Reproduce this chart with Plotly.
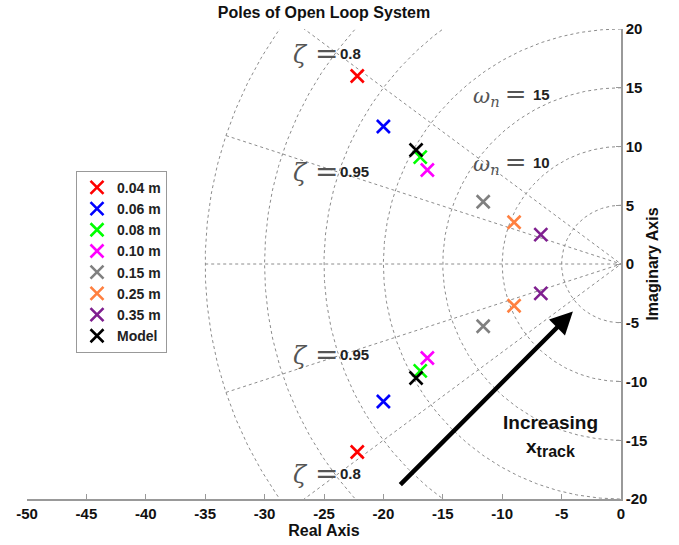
import numpy as np
import plotly.graph_objects as go

# ---- data ----
labels = ["0.04 m", "0.06 m", "0.08 m", "0.10 m", "0.15 m", "0.25 m", "0.35 m", "Model"]
colors = ["#FF0000", "#0000FF", "#00FF00", "#FF00FF", "#808080", "#FF8040", "#7F1F8F", "#000000"]
pole_real = [-22.2, -20.0, -16.9, -16.3, -11.6, -9.0, -6.75, -17.25]
pole_imag = [16.0, 11.7, 9.1, 8.0, 5.3, 3.55, 2.5, 9.7]

wn_grid = [5, 10, 15, 20, 25, 30, 35]
zeta_grid = [0.8, 0.95]
x_ticks = list(range(-50, 1, 5))
y_ticks = list(range(-20, 21, 5))

BOLD = "Liberation Sans"
SERIF = "DejaVu Serif"
grid_style = dict(color="#8c8c8c", width=1, dash="dot")

fig = go.Figure()

# omega_n semicircles
th = np.linspace(np.pi / 2, 3 * np.pi / 2, 400)
for r in wn_grid:
    fig.add_trace(go.Scatter(x=r * np.cos(th), y=r * np.sin(th), mode="lines",
                             line=grid_style, showlegend=False, hoverinfo="skip"))
# zeta rays
rmax = max(wn_grid)
fig.add_trace(go.Scatter(x=[-rmax, 0], y=[0, 0], mode="lines", line=grid_style,
                         showlegend=False, hoverinfo="skip"))
for z in zeta_grid:
    s = np.sqrt(1 - z * z)
    for sign in (1, -1):
        fig.add_trace(go.Scatter(x=[-rmax * z, 0], y=[sign * rmax * s, 0], mode="lines",
                                 line=grid_style, showlegend=False, hoverinfo="skip"))

# poles
for lab, c, re, im in zip(labels, colors, pole_real, pole_imag):
    fig.add_trace(go.Scatter(x=[re, re], y=[im, -im], mode="markers", name=lab,
                             marker=dict(symbol="x-thin", size=13, color=c,
                                         line=dict(color=c, width=2.6))))

ann = []
serif_font = dict(family=SERIF, size=24, color="#555")
num_font = dict(family=BOLD, size=15, color="#222")
for txt, yy in [("0.8", 17.9), ("0.95", 7.9), ("0.95", -7.7), ("0.8", -17.8)]:
    ann.append(dict(x=-27.75, y=yy, xref="x", yref="y",
                    text="<i>ζ</i><span style='font-size:28px'> =</span>", showarrow=False,
                    xanchor="left", yanchor="middle", font=serif_font))
    ann.append(dict(x=-23.85, y=yy, xref="x", yref="y", text=f"<b>{txt}</b>", showarrow=False,
                    xanchor="left", yanchor="middle", font=num_font))
for txt, yy in [("15", 14.45), ("10", 8.6)]:
    ann.append(dict(x=-12.6, y=yy, xref="x", yref="y",
                    text="<i>ω<sub>n</sub></i><span style='font-size:26px'>\u2009=</span>",
                    showarrow=False, xanchor="left", yanchor="middle",
                    font=dict(family=SERIF, size=21, color="#555")))
    ann.append(dict(x=-7.6, y=yy, xref="x", yref="y", text=f"<b>{txt}</b>", showarrow=False,
                    xanchor="left", yanchor="middle", font=num_font))

# arrow
ann.append(dict(x=-4.05, y=-4.05, ax=-18.7, ay=-18.9, xref="x", yref="y", axref="x", ayref="y",
                text="", showarrow=True, arrowhead=2, arrowsize=1.0, arrowwidth=4.5,
                arrowcolor="#000"))
ann.append(dict(x=-5.95, y=-13.45, xref="x", yref="y", text="<b>Increasing</b>", showarrow=False,
                font=dict(family=BOLD, size=19, color="#111")))
ann.append(dict(x=-5.95, y=-15.7, xref="x", yref="y",
                text="<b>x<sub><span style='font-size:16px'>track</span></sub></b>", showarrow=False,
                font=dict(family=BOLD, size=19, color="#111")))

tick_font = dict(family=BOLD, size=15, color="#111")
fig.update_layout(
    width=679, height=545,
    margin=dict(l=27, r=58, t=29, b=42),
    paper_bgcolor="white", plot_bgcolor="white",
    title=dict(text="<b>Poles of Open Loop System</b>", x=(27 + 621) / 2 / 679, xanchor="center",
               y=1 - 12 / 545, yanchor="middle", font=dict(family=BOLD, size=16, color="#111")),
    xaxis=dict(range=[-50, 0], tickvals=x_ticks, ticktext=[f"<b>{v}</b>" for v in x_ticks],
               showgrid=False, zeroline=False,
               showline=True, linecolor="#999", linewidth=1.5, ticks="inside", ticklen=5,
               tickcolor="#999", tickfont=tick_font,
               title=dict(text="<b>Real Axis</b>", standoff=0,
                          font=dict(family=BOLD, size=16, color="#111"))),
    yaxis=dict(range=[-20, 20], tickvals=y_ticks, ticktext=[f"<b>{v}</b>" for v in y_ticks],
               side="right", showgrid=False, zeroline=False,
               showline=True, linecolor="#999", linewidth=1.5, ticks="inside", ticklen=5,
               tickcolor="#999", tickfont=tick_font,
               title=dict(text="<b>Imaginary Axis</b>", standoff=0,
                          font=dict(family=BOLD, size=16, color="#111"))),
    legend=dict(x=(76 - 27) / 594, y=(503 - 172) / 474, xanchor="left", yanchor="top",
                bordercolor="#999", borderwidth=1, bgcolor="white",
                font=dict(family=BOLD, size=14, color="#222", weight="bold"),
                itemwidth=30, tracegroupgap=0),
    annotations=ann,
    showlegend=True,
)

fig.write_html("out.html")
